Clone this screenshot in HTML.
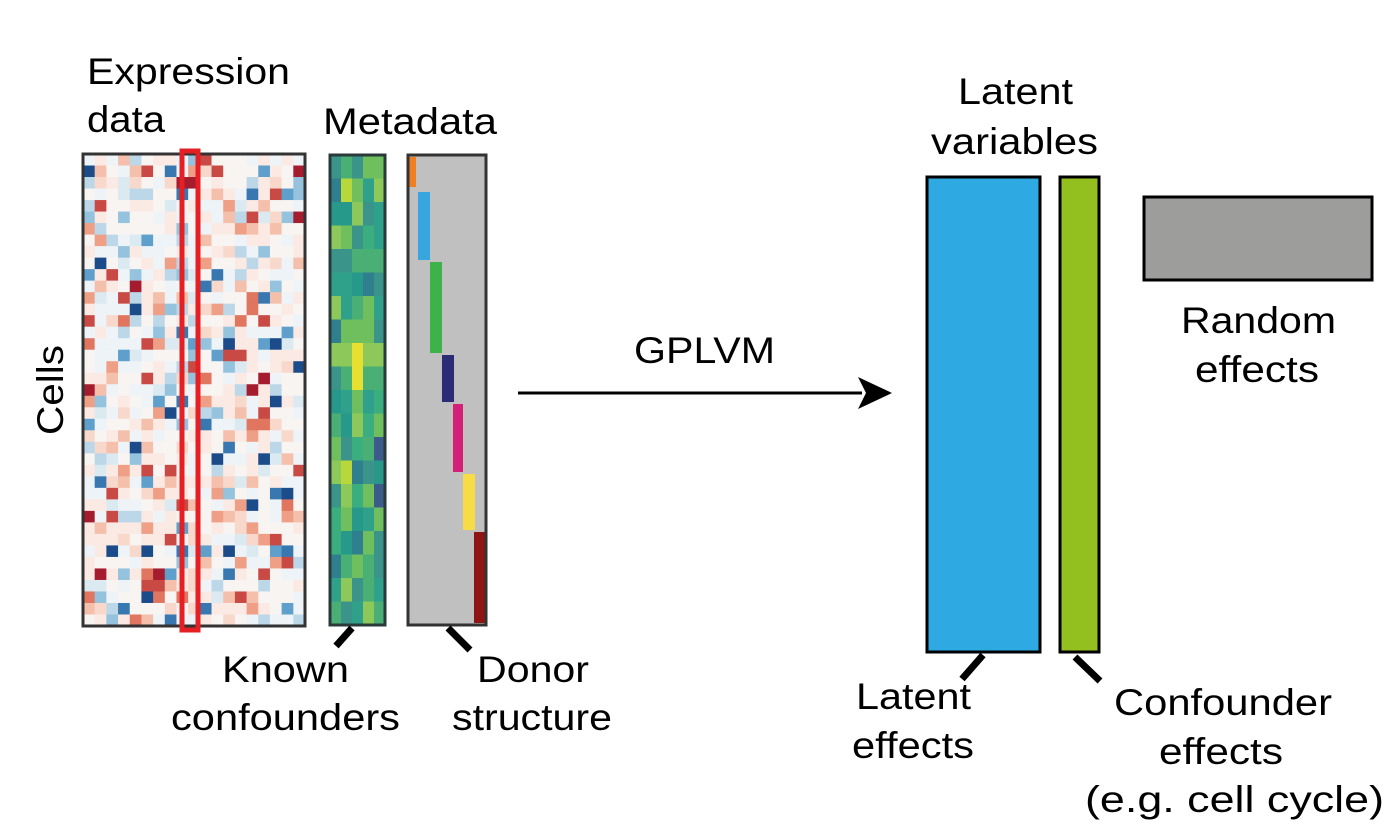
<!DOCTYPE html>
<html><head><style>
html,body{margin:0;padding:0;background:#fff;}
svg text{font-family:"Liberation Sans",Arial,sans-serif;font-size:37px;fill:#000;}
</style></head><body>
<svg id="s" width="1397" height="825" viewBox="0 0 1397 825" xmlns="http://www.w3.org/2000/svg">
<rect x="83" y="154" width="222" height="472" fill="#f6e0d8"/>
<g id="hm"></g>
<g id="md"></g>
<rect x="408" y="155" width="78" height="470" fill="#c0c0c0"/>
<rect x="409" y="157" width="7" height="30" fill="#ef7f22"/>
<rect x="418" y="192" width="12" height="68" fill="#37a6df"/>
<rect x="430" y="262" width="12" height="91" fill="#3db24a"/>
<rect x="442" y="355" width="12" height="47" fill="#2a2d75"/>
<rect x="453" y="404" width="10" height="68" fill="#d3217a"/>
<rect x="463" y="474" width="12" height="56" fill="#f7dc45"/>
<rect x="474" y="532" width="11" height="91" fill="#8f1515"/>
<rect x="408" y="155" width="78" height="470" fill="none" stroke="#333" stroke-width="3"/>
<rect x="83" y="154" width="222" height="472" fill="none" stroke="#333" stroke-width="3"/>
<rect x="330" y="155" width="55" height="470" fill="none" stroke="#2a3a3a" stroke-width="3"/>
<rect x="182" y="151" width="16" height="479" fill="none" stroke="#e51f24" stroke-width="5"/>
<text x="87" y="84" textLength="203" lengthAdjust="spacingAndGlyphs">Expression</text>
<text x="87" y="132" textLength="78" lengthAdjust="spacingAndGlyphs">data</text>
<text x="323" y="134" textLength="174" lengthAdjust="spacingAndGlyphs">Metadata</text>
<text transform="translate(63,390) rotate(-90)" text-anchor="middle" textLength="90" lengthAdjust="spacingAndGlyphs">Cells</text>
<line x1="352" y1="628" x2="336" y2="646" stroke="#000" stroke-width="7"/>
<line x1="448" y1="628" x2="470" y2="650" stroke="#000" stroke-width="7"/>
<text x="222" y="682" textLength="127" lengthAdjust="spacingAndGlyphs">Known</text>
<text x="171" y="730" textLength="229" lengthAdjust="spacingAndGlyphs">confounders</text>
<text x="477" y="682" textLength="112" lengthAdjust="spacingAndGlyphs">Donor</text>
<text x="452" y="730" textLength="160" lengthAdjust="spacingAndGlyphs">structure</text>
<text x="634" y="363" textLength="141" lengthAdjust="spacingAndGlyphs">GPLVM</text>
<line x1="518" y1="393" x2="862" y2="393" stroke="#000" stroke-width="3"/>
<polygon points="892,393 858,377 866,393 858,409" fill="#000"/>
<text x="958" y="104" textLength="115" lengthAdjust="spacingAndGlyphs">Latent</text>
<text x="931" y="154" textLength="167" lengthAdjust="spacingAndGlyphs">variables</text>
<rect x="927" y="177" width="113" height="475" fill="#2fa9e2" stroke="#000" stroke-width="3"/>
<rect x="1060" y="177" width="39" height="475" fill="#93c01f" stroke="#000" stroke-width="3"/>
<rect x="1144" y="197" width="228" height="83" fill="#9d9d9c" stroke="#000" stroke-width="3"/>
<text x="1181" y="333" textLength="155" lengthAdjust="spacingAndGlyphs">Random</text>
<text x="1195" y="382" textLength="124" lengthAdjust="spacingAndGlyphs">effects</text>
<line x1="983" y1="655" x2="962" y2="679" stroke="#000" stroke-width="7"/>
<line x1="1075" y1="657" x2="1100" y2="681" stroke="#000" stroke-width="7"/>
<text x="856" y="709" textLength="115" lengthAdjust="spacingAndGlyphs">Latent</text>
<text x="852" y="758" textLength="122" lengthAdjust="spacingAndGlyphs">effects</text>
<text x="1114" y="715" textLength="218" lengthAdjust="spacingAndGlyphs">Confounder</text>
<text x="1159" y="764" textLength="124" lengthAdjust="spacingAndGlyphs">effects</text>
<text x="1085" y="812" textLength="299" lengthAdjust="spacingAndGlyphs">(e.g. cell cycle)</text>
</svg>
<script>
(function(){
var s=12345;function r(){s=(s*1103515245+12345)%2147483648;return s/2147483648;}
var ns="http://www.w3.org/2000/svg";
var hm=document.getElementById("hm");
var reds=["#fbe9e3","#f8d8cb","#f5c0ab","#ee9f86","#e07560","#c94a45","#a51c2e"];
var blues=["#edf3f7","#dbe9f1","#bcd8e8","#95c2dd","#5f9fcb","#3977b0","#1c4b8a"];
var cw=222/19,ch=472/41;
for(var i=0;i<19;i++)for(var j=0;j<41;j++){
 var v=r(),c;
 if(v<0.22)c="#f7f4f2";
 else if(v<0.62){var k=Math.floor(Math.pow(r(),2.6)*7);c=reds[k];}
 else {var k=Math.floor(Math.pow(r(),2.6)*7);c=blues[k];}
 var e=document.createElementNS(ns,"rect");
 e.setAttribute("x",(83+i*cw).toFixed(2));e.setAttribute("y",(154+j*ch).toFixed(2));
 e.setAttribute("width",(cw+0.5).toFixed(2));e.setAttribute("height",(ch+0.5).toFixed(2));
 e.setAttribute("fill",c);hm.appendChild(e);
}
var md=document.getElementById("md");
var g=["#2fa08a","#3aae7e","#6fbf5f","#3b948a","#2f7f8e","#8cc95a","#4aaf74","#27998a"];
var mw=55/5,mh=470/20;
for(var i=0;i<5;i++)for(var j=0;j<20;j++){
 var v=r(),c;
 if(v<0.03)c="#e8e030";else if(v<0.06)c="#3b5b8b";else if(v<0.1)c="#b7d83a";
 else c=g[Math.floor(r()*8)];
 var e=document.createElementNS(ns,"rect");
 e.setAttribute("x",(330+i*mw).toFixed(2));e.setAttribute("y",(155+j*mh).toFixed(2));
 e.setAttribute("width",(mw+0.5).toFixed(2));e.setAttribute("height",(mh+0.5).toFixed(2));
 e.setAttribute("fill",c);md.appendChild(e);
}
})();
</script>
</body></html>
